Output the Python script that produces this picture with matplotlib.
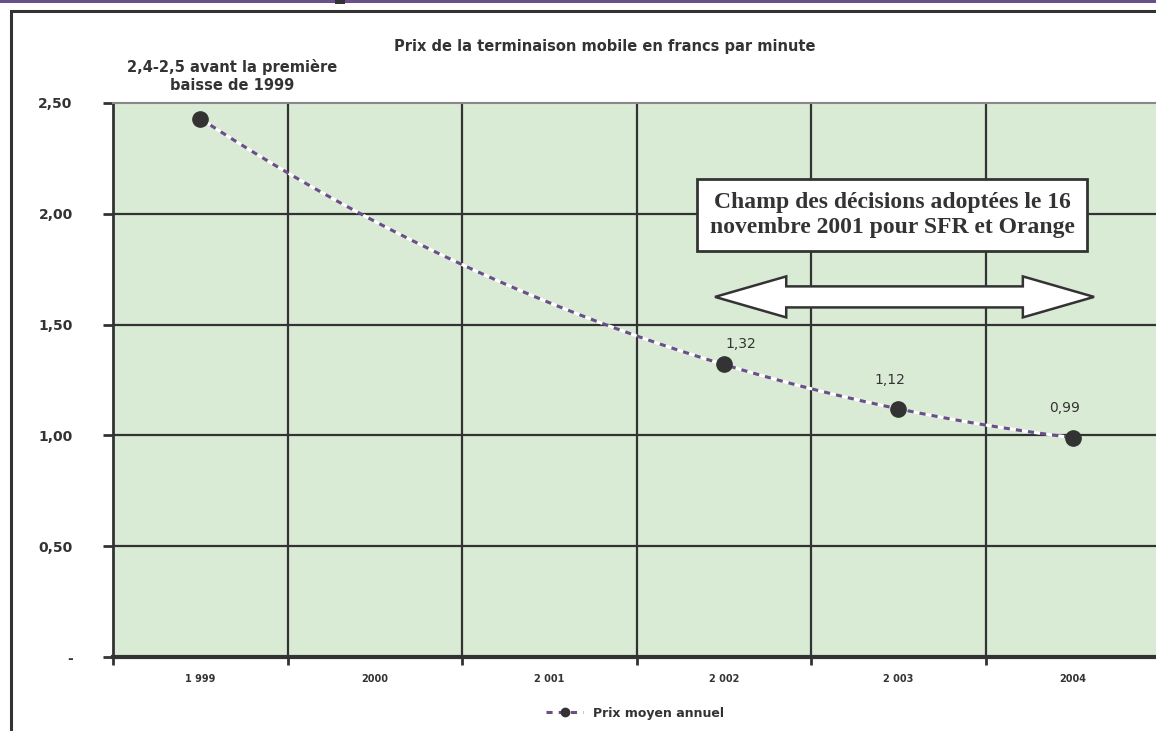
import matplotlib.pyplot as plt
import numpy as np
from matplotlib.patches import Rectangle, Polygon

categories = ["1 999", "2000", "2 001", "2 002", "2 003", "2004"]
point_idx = [0, 3, 4, 5]
prix = [2.43, 1.32, 1.12, 0.99]
point_labels = ["", "1,32", "1,12", "0,99"]
yticks = [0, 0.5, 1.0, 1.5, 2.0, 2.5]
ytick_labels = ["-", "0,50", "1,00", "1,50", "2,00", "2,50"]

dark = "#333333"
purple = "#6B4F8A"
green = "#DAEBD5"

W, H = 1156, 731
fig = plt.figure(figsize=(W / 100, H / 100), dpi=100)
fig.patch.set_facecolor("white")

# outer frame and top band
fig.patches.append(Rectangle((11 / W, -0.05), 1.2, (H - 11) / H + 0.05, transform=fig.transFigure,
                             fill=False, edgecolor=dark, lw=2.2))
fig.patches.append(Rectangle((0, (H - 3) / H), 1, 3 / H, transform=fig.transFigure,
                             facecolor=purple, edgecolor="none"))
fig.patches.append(Rectangle((335 / W, (H - 4) / H), 10 / W, 4 / H, transform=fig.transFigure,
                             facecolor=dark, edgecolor="none"))

ax = fig.add_axes([113 / W, 74 / H, 1047 / W, 554 / H])
ax.set_facecolor(green)
n = len(categories)
ax.set_xlim(-0.5, n - 0.5)
ax.set_ylim(0, 2.5)

# grid
for y in yticks[1:-1]:
    ax.axhline(y, color=dark, lw=1.6, zorder=1)
for b in np.arange(0.5, n - 0.5, 1.0):
    ax.axvline(b, color=dark, lw=1.6, zorder=1)

ax.spines["top"].set_color("#888888")
ax.spines["top"].set_linewidth(1.5)
ax.spines["left"].set_color(dark)
ax.spines["left"].set_linewidth(2)
ax.spines["bottom"].set_color(dark)
ax.spines["bottom"].set_linewidth(3)
ax.spines["right"].set_visible(False)

ax.set_yticks(yticks)
ax.set_yticklabels(ytick_labels, fontsize=10, fontweight="bold", color=dark)
ax.tick_params(axis="y", length=7, width=2, color=dark, pad=22)

ax.set_xticks(np.arange(-0.5, n, 1.0))
ax.set_xticklabels([])
ax.set_xticks(np.arange(n), minor=True)
ax.set_xticklabels(categories, minor=True, fontsize=7, fontweight="bold", color=dark)
ax.tick_params(axis="x", which="major", length=6, width=2, color=dark, direction="out")
ax.tick_params(axis="x", which="minor", length=0, pad=12)

# smoothed line through the points
coef = np.polyfit(point_idx, prix, 3)
xs = np.linspace(point_idx[0], point_idx[-1], 300)
ax.plot(xs, np.polyval(coef, xs), color=purple, lw=2.2, linestyle=(0, (2, 2)),
        gapcolor="white", zorder=3)
ax.plot(point_idx, prix, "o", color=dark, ms=11, zorder=4)
ax.plot([], [], color=purple, lw=2.2, linestyle=(0, (2, 2)), marker="o", ms=6,
        mfc=dark, mec=dark, label="Prix moyen annuel")

for xi, v, lab in zip(point_idx, prix, point_labels):
    if lab:
        dx, dy = (12, 10) if xi == 3 else (-6, 16)
        ax.annotate(lab, (xi, v), xytext=(dx, dy), textcoords="offset points",
                    ha="center", va="bottom", fontsize=10, color=dark)

# double arrow
y0, hs, hh, hl = 0.650, 0.019, 0.037, 0.068
xl, xr = 0.575, 0.937
pts = [(xl, y0), (xl + hl, y0 + hh), (xl + hl, y0 + hs), (xr - hl, y0 + hs), (xr - hl, y0 + hh),
       (xr, y0), (xr - hl, y0 - hh), (xr - hl, y0 - hs), (xl + hl, y0 - hs), (xl + hl, y0 - hh)]
ax.add_patch(Polygon(pts, closed=True, transform=ax.transAxes, facecolor="white",
                     edgecolor=dark, lw=1.8, zorder=5))

ax.text(892 / W, 1 - 215 / H, "Champ des décisions adoptées le 16\nnovembre 2001 pour SFR et Orange",
        transform=fig.transFigure, ha="center", va="center", fontsize=17, fontweight="bold",
        family="Liberation Serif", color=dark, linespacing=1.25, zorder=6,
        bbox=dict(boxstyle="square,pad=0.55", facecolor="white", edgecolor=dark, lw=2))

fig.text(605 / W, 1 - 46 / H, "Prix de la terminaison mobile en francs par minute",
         ha="center", va="center", fontsize=10.5, fontweight="bold", color=dark)
fig.text(232 / W, 1 - 76 / H, "2,4-2,5 avant la première\nbaisse de 1999",
         ha="center", va="center", fontsize=10.5, fontweight="bold", color=dark, linespacing=1.2)

fig.legend(loc="center", bbox_to_anchor=(635 / W, 18 / H), frameon=False,
           prop={"weight": "bold", "size": 9}, handlelength=3, labelcolor=dark)

fig.savefig("out.png", dpi=100)
